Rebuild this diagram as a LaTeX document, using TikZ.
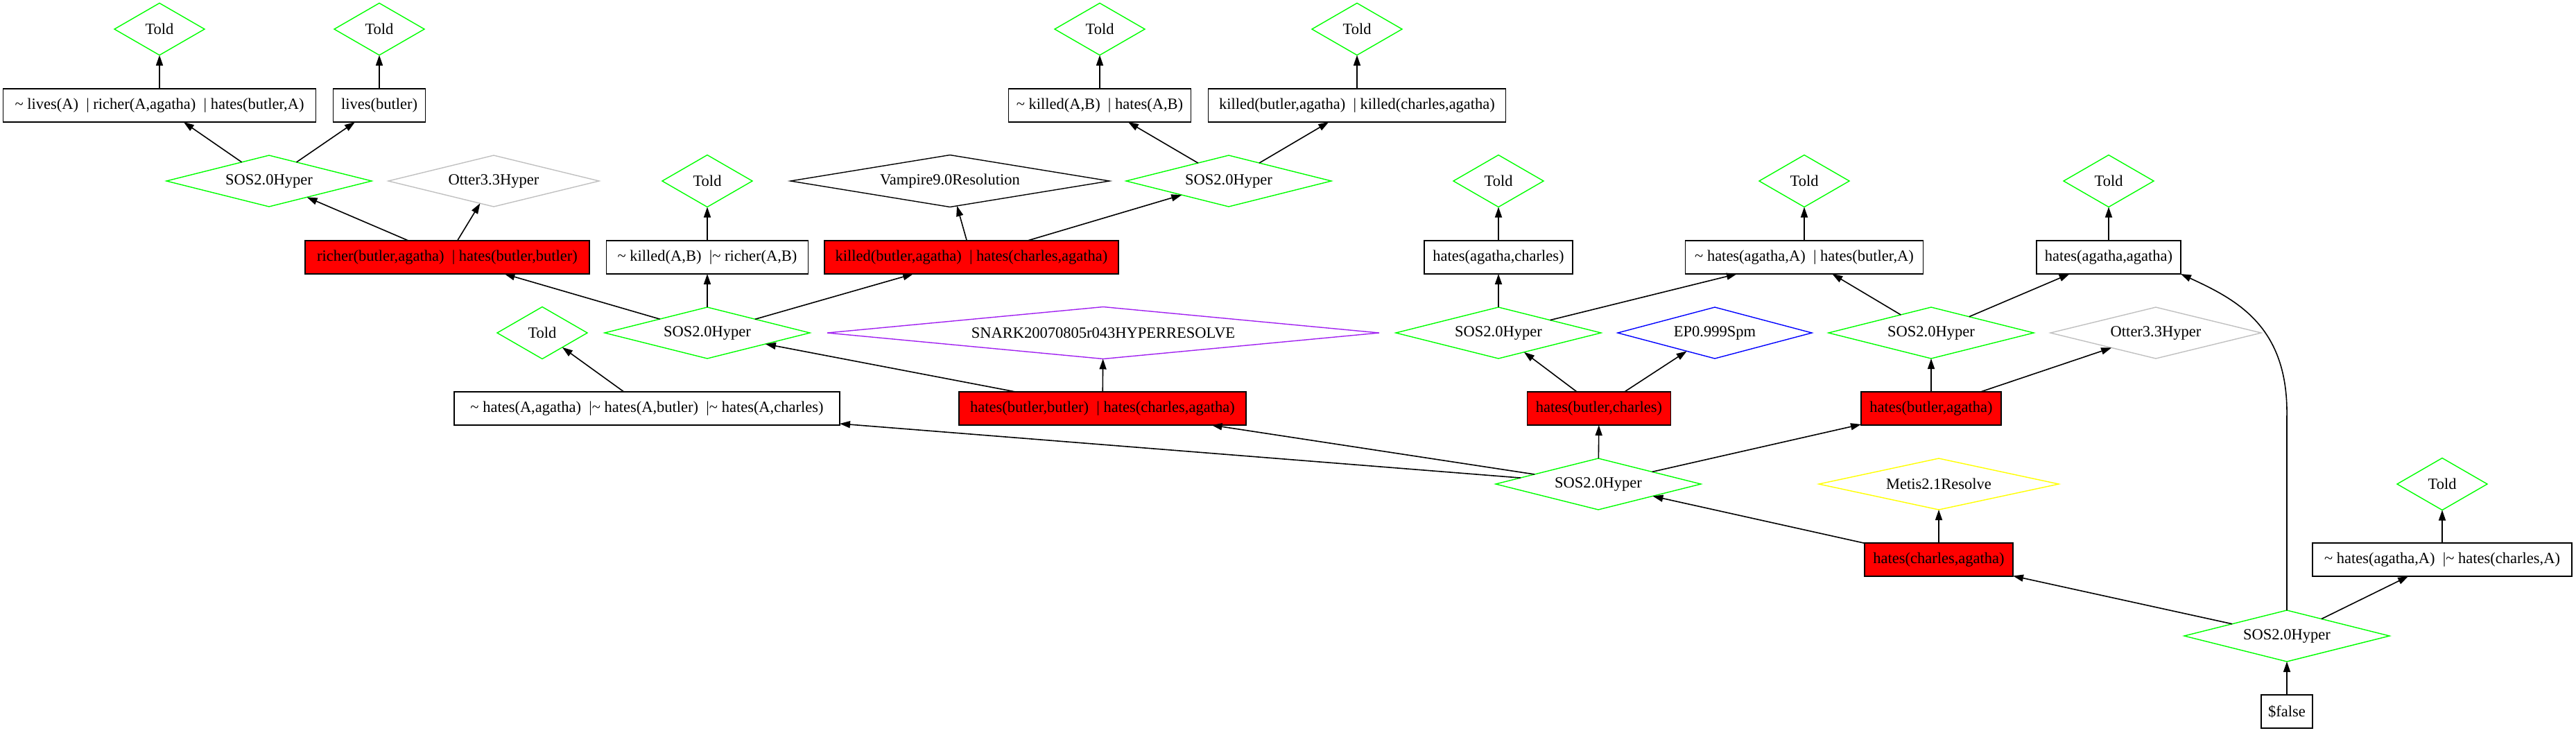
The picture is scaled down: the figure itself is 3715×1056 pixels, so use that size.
\documentclass[tikz,border=0pt]{standalone}
\usepackage{fontspec}
\setmainfont{Liberation Serif}
\usetikzlibrary{shapes.geometric,arrows.meta}
\definecolor{ggreen}{HTML}{00FF00}
\definecolor{ggray}{HTML}{C0C0C0}
\definecolor{gpurple}{HTML}{A020F0}
\definecolor{gblue}{HTML}{0000FF}
\definecolor{gyellow}{HTML}{FFFF00}
\definecolor{gred}{HTML}{FF0000}
\newcommand{\nlit}{\textasciitilde\ }
\newcommand{\bsep}{\ \ |}
\begin{document}
\begin{tikzpicture}[x=0.5pt,y=-0.5pt,
  every node/.style={font=\fontsize{11.25}{13}\selectfont, inner sep=0pt, outer sep=0pt},
  clause/.style={rectangle, draw=black, line width=0.75pt, minimum height=24pt, minimum width=#1*0.5pt},
  redclause/.style={clause=#1, fill=gred},
  rule/.style n args={4}{diamond, draw=#1, line width=0.7pt, minimum width=#2*0.5pt, minimum height=#3*0.5pt, shape aspect=#4},
  told/.style={rule={ggreen}{130}{75}{1.73}},
  sos/.style={rule={ggreen}{296}{74}{4}},
  otter/.style={rule={ggray}{304}{74}{4.1}},
  link/.style={-{Triangle[length=7.5pt,width=5pt]}, line width=0.8pt},
]
\useasboundingbox (0,0) rectangle (3715,1056);

% row 1: Told
\node[told] (T1) at (230,42) {Told};
\node[told] (T2) at (547,42) {Told};
\node[told] (T3) at (1586,42) {Told};
\node[told] (T4) at (1957,42) {Told};

% row 2
\node[clause=451] (B1) at (230,152) {\nlit lives(A)\bsep\ richer(A,agatha)\bsep\ hates(butler,A)};
\node[clause=133] (B2) at (547,152) {lives(butler)};
\node[clause=263] (B3) at (1586,152) {\nlit killed(A,B)\bsep\ hates(A,B)};
\node[clause=429] (B4) at (1957,152) {killed(butler,agatha)\bsep\ killed(charles,agatha)};

% row 3
\node[sos] (S1) at (388,261) {SOS2.0Hyper};
\node[otter] (O1) at (712,261) {Otter3.3Hyper};
\node[told] (T5) at (1020,261) {Told};
\node[rule={black}{460}{75}{6.1}] (V) at (1370,261) {Vampire9.0Resolution};
\node[sos] (S2) at (1772,261) {SOS2.0Hyper};
\node[told] (T6) at (2161,261) {Told};
\node[told] (T7) at (2602,261) {Told};
\node[told] (T8) at (3041,261) {Told};

% row 4
\node[redclause=410] (R1) at (645,371) {richer(butler,agatha)\bsep\ hates(butler,butler)};
\node[clause=291] (B5) at (1020,371) {\nlit killed(A,B)\bsep\nlit richer(A,B)};
\node[redclause=424] (R2) at (1401,371) {killed(butler,agatha)\bsep\ hates(charles,agatha)};
\node[clause=214] (B6) at (2161,371) {hates(agatha,charles)};
\node[clause=343] (B7) at (2602,371) {\nlit hates(agatha,A)\bsep\ hates(butler,A)};
\node[clause=208] (B8) at (3041,371) {hates(agatha,agatha)};

% row 5
\node[told] (T9) at (782,480) {Told};
\node[sos] (S3) at (1020,480) {SOS2.0Hyper};
\node[rule={gpurple}{796}{75}{10.6}] (SN) at (1591,480) {SNARK20070805r043HYPERRESOLVE};
\node[sos] (S4) at (2161,480) {SOS2.0Hyper};
\node[rule={gblue}{280}{74}{3.8}] (EP) at (2473,480) {EP0.999Spm};
\node[sos] (S5) at (2785,480) {SOS2.0Hyper};
\node[otter] (O2) at (3109,480) {Otter3.3Hyper};

% row 6
\node[clause=556] (B9) at (933,589) {\nlit hates(A,agatha)\bsep\nlit hates(A,butler)\bsep\nlit hates(A,charles)};
\node[redclause=414] (R3) at (1590,589) {hates(butler,butler)\bsep\ hates(charles,agatha)};
\node[redclause=207] (R4) at (2306,589) {hates(butler,charles)};
\node[redclause=202] (R5) at (2785,589) {hates(butler,agatha)};

% row 7
\node[sos] (S6) at (2305,698) {SOS2.0Hyper};
\node[rule={gyellow}{346}{74}{4.7}] (M) at (2796,698) {Metis2.1Resolve};
\node[told] (T10) at (3522,698) {Told};

% row 8
\node[redclause=214] (R6) at (2796,807) {hates(charles,agatha)};
\node[clause=374] (B10) at (3522,807) {\nlit hates(agatha,A)\bsep\nlit hates(charles,A)};

% row 9
\node[sos] (S7) at (3298,917) {SOS2.0Hyper};

% row 10
\node[clause=74] (F) at (3298,1026) {\$false};

% edges
\foreach \a/\b in {B1/T1,B2/T2,B3/T3,B4/T4,B5/T5,B6/T6,B7/T7,B8/T8,B9/T9,B10/T10,
  S1/B1,S1/B2,R1/S1,R1/O1,S2/B3,S2/B4,R2/V,R2/S2,S3/R1,S3/B5,S3/R2,R3/S3,R3/SN,
  S4/B6,S4/B7,S5/B7,S5/B8,R4/S4,R4/EP,R5/S5,R5/O2,S6/B9,S6/R3,S6/R4,S6/R5,
  R6/S6,R6/M,S7/R6,S7/B10,F/S7}
  \draw[link] (\a) -- (\b);
\coordinate (bend) at (3298,600);
\draw[link] (S7.north) -- (bend) .. controls (3300,470) and (3225,432) .. (B8.south east);
\end{tikzpicture}
\end{document}
